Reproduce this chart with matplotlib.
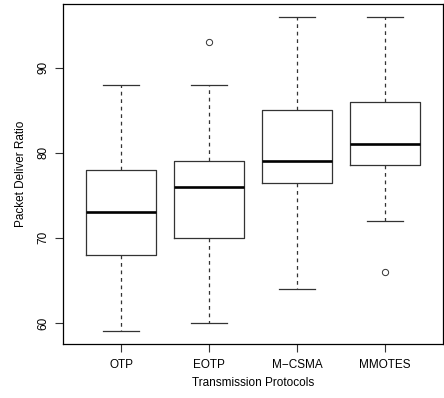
import matplotlib.pyplot as plt

plt.rcParams['font.family'] = ['Liberation Sans', 'DejaVu Sans']

protocols = ["OTP", "EOTP", "M\u2212CSMA", "MMOTES"]
whisker_low = [59, 60, 64, 72]
q1 = [68, 70, 76.5, 78.5]
median = [73, 76, 79, 81]
q3 = [78, 79, 85, 86]
whisker_high = [88, 88, 96, 96]
outliers = [[], [93], [], [66]]

stats = []
for i, name in enumerate(protocols):
    stats.append({
        "label": name,
        "whislo": whisker_low[i],
        "q1": q1[i],
        "med": median[i],
        "q3": q3[i],
        "whishi": whisker_high[i],
        "fliers": outliers[i],
    })

fig = plt.figure(figsize=(4.44, 3.98), dpi=100)
ax = fig.add_axes([63 / 444, 54 / 398, 380 / 444, 340 / 398])

ax.bxp(
    stats,
    positions=[1, 2, 3, 4],
    widths=0.8,
    boxprops=dict(color="#333333", linewidth=0.9),
    medianprops=dict(color="black", linewidth=1.9, solid_capstyle="butt"),
    whiskerprops=dict(color="#333333", linewidth=0.9, linestyle=(0, (3, 3))),
    capprops=dict(color="#333333", linewidth=0.9),
    capwidths=0.4,
    flierprops=dict(marker="o", markersize=4.5, markerfacecolor="none",
                    markeredgecolor="#333333", markeredgewidth=0.7),
)

ax.set_xlim(0.34, 4.66)
ax.set_ylim(57.52, 97.48)
ax.set_yticks([60, 70, 80, 90])
ax.set_yticklabels(["60", "70", "80", "90"], rotation=90, va="center")
ax.tick_params(axis="both", labelsize=8.5, length=6, width=0.8, color="#333333")
ax.tick_params(axis="x", pad=5)
ax.tick_params(axis="y", pad=4)

for s in ax.spines.values():
    s.set_linewidth(0.9)

ax.set_xlabel("Transmission Protocols", fontsize=8.5, labelpad=4)
ax.set_ylabel("Packet Deliver Ratio", fontsize=8.5, labelpad=7)

fig.savefig("out.png", dpi=100)
